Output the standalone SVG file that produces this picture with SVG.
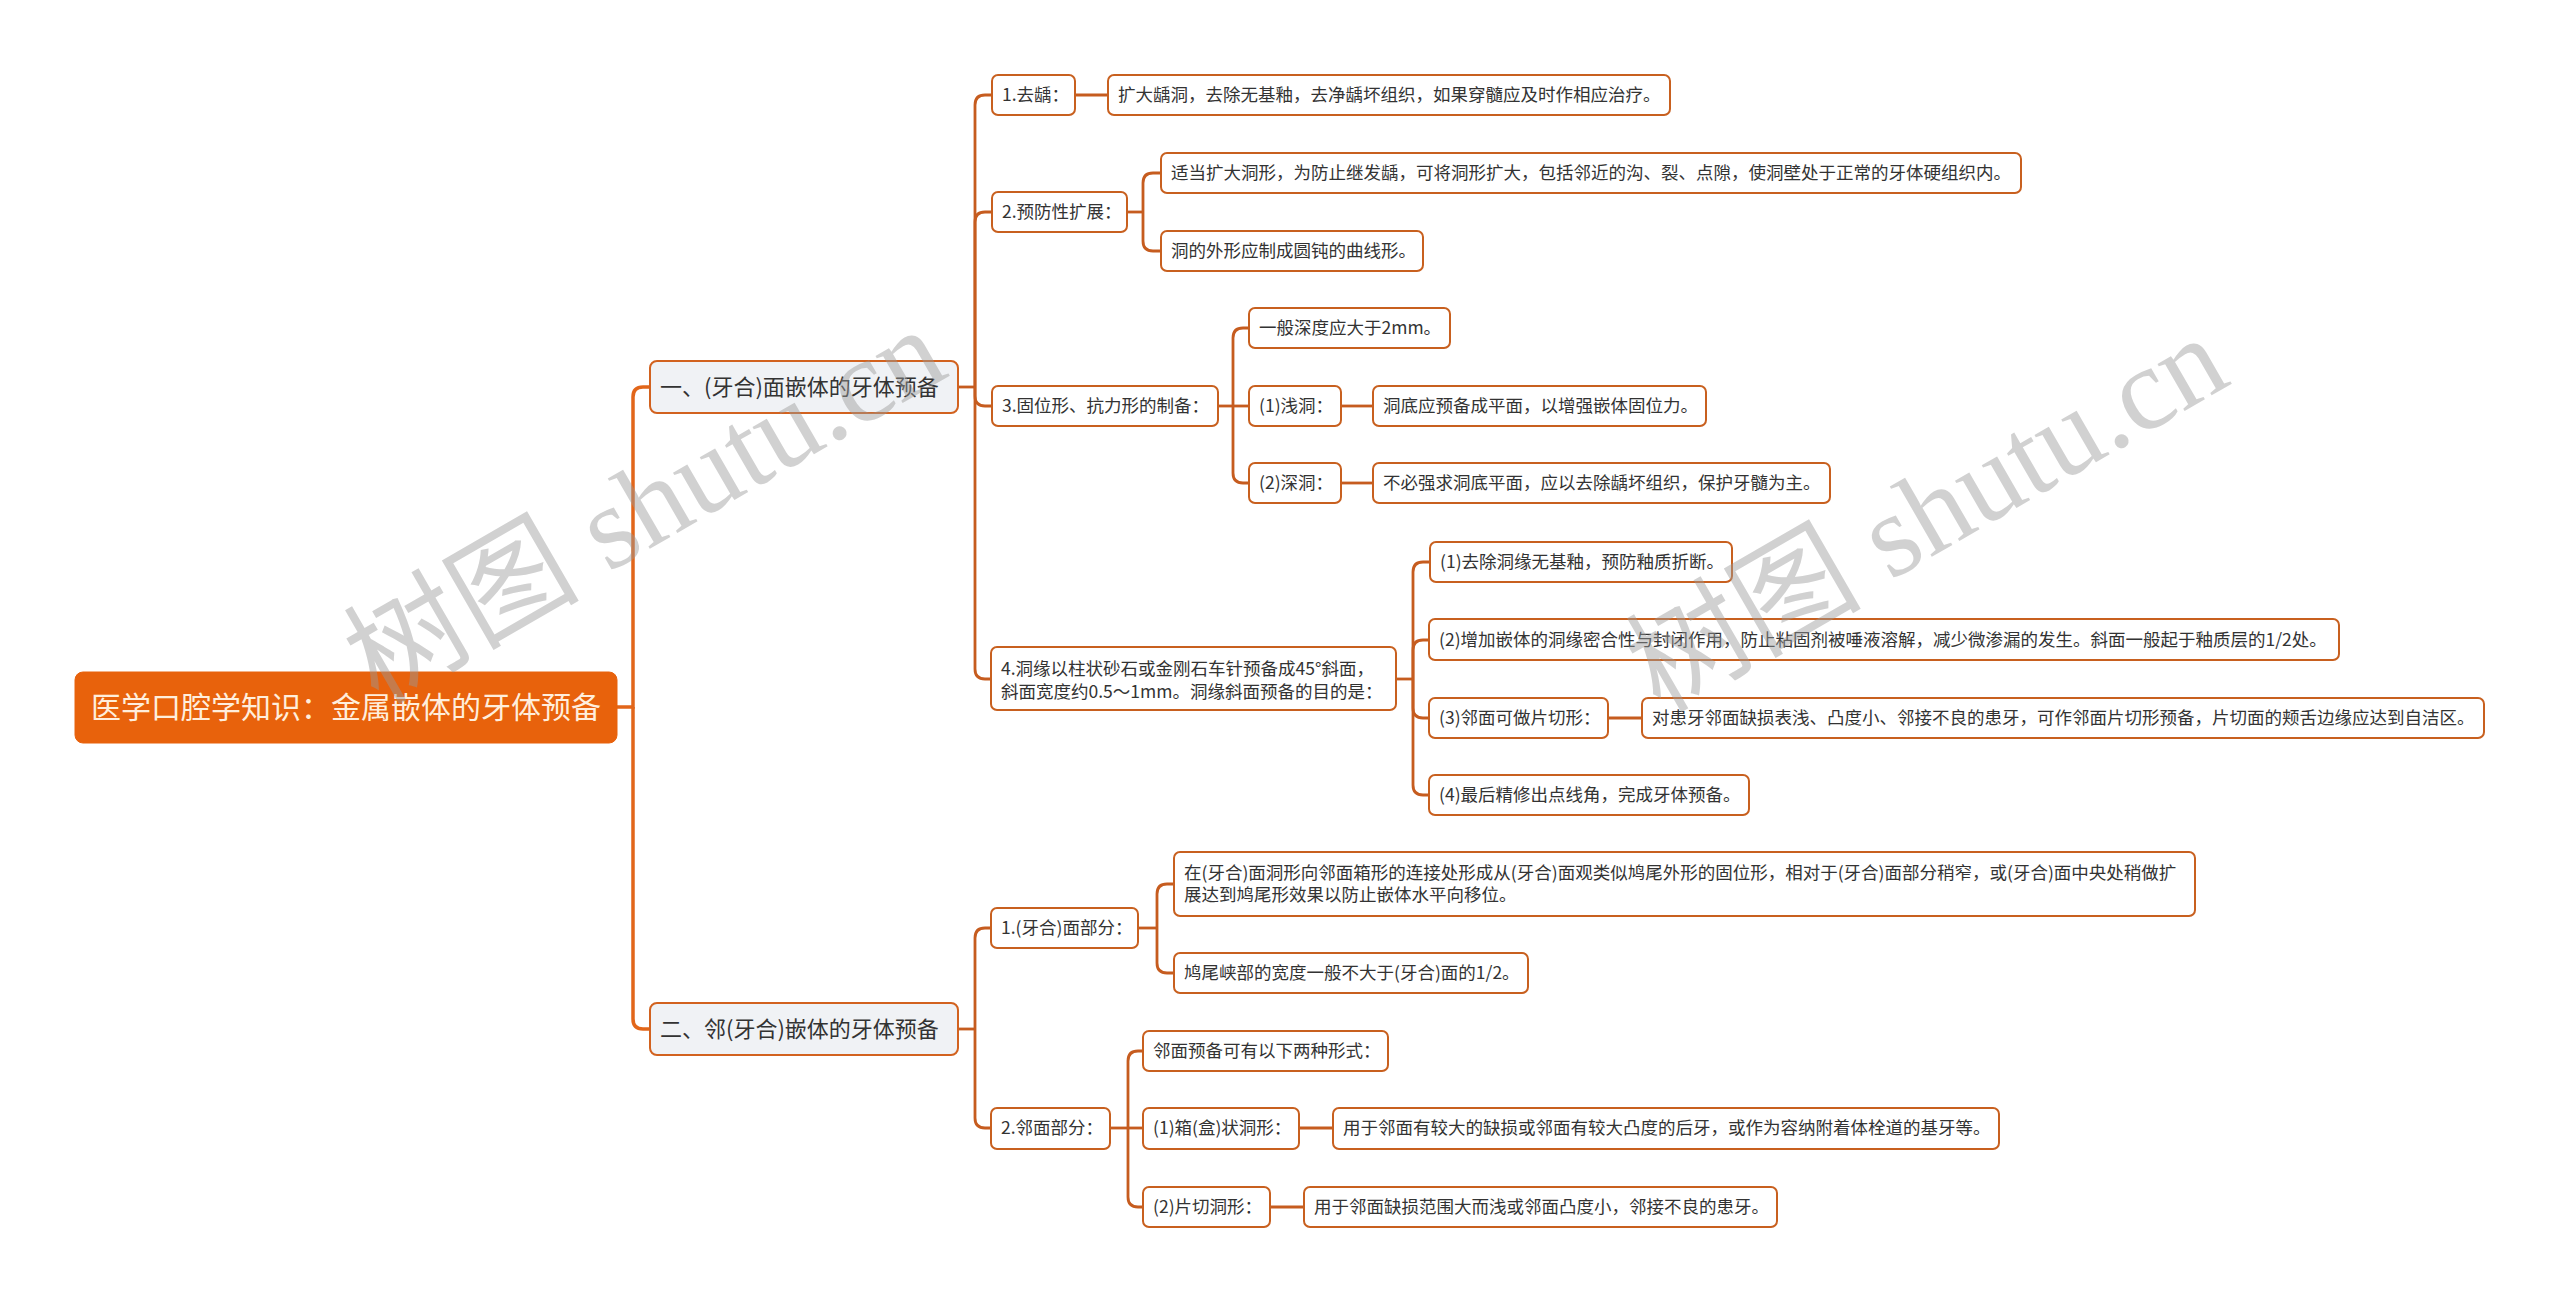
<svg xmlns="http://www.w3.org/2000/svg" width="2560" height="1302" viewBox="0 0 2560 1302">
<style>
.bg{fill:#ffffff}
.root rect{fill:#E8620C;stroke:#E8620C;stroke-width:1}
.root text{fill:#FFEEDC;font-size:30px}
.l1 rect{fill:#F0F2F5;stroke:#D2621F;stroke-width:2}
.l1 text{fill:#333333;font-size:22px}
.n rect{fill:#FFFFFF;stroke:#C8601F;stroke-width:2}
.n text{fill:#333333;font-size:17.5px}
text{font-family:"Noto Sans CJK SC","Noto Sans",sans-serif}
.c1 path{fill:none;stroke:#E2661A;stroke-width:3.5}
.c2 path{fill:none;stroke:#C65C1F;stroke-width:2.8}
.wm{fill:#9A9A9A;opacity:0.45;font-size:118px;font-family:"Liberation Serif","Noto Sans CJK SC",serif}
</style>
<rect class="bg" x="0" y="0" width="2560" height="1302"/>

<g id="connectors">
<g class="c1">
<path d="M617,707 H633 V397 Q633,387 643,387 H650"/>
<path d="M633,707 V1019 Q633,1029 643,1029 H650"/>
</g>
<g class="c2">
<path d="M958,387 H975"/>
<path d="M975,387 V105 Q975,95 985,95 H992"/>
<path d="M975,387 V222 Q975,212 985,212 H992"/>
<path d="M975,387 V396 Q975,406 985,406 H992"/>
<path d="M975,387 V669 Q975,679 985,679 H991"/>
<path d="M1075,95 H1108"/>
<path d="M1127,212 H1143"/>
<path d="M1143,212 V183 Q1143,173 1153,173 H1161"/>
<path d="M1143,212 V241 Q1143,251 1153,251 H1161"/>
<path d="M1218,406 H1249"/>
<path d="M1233,406 V338 Q1233,328 1243,328 H1249"/>
<path d="M1233,406 V473 Q1233,483 1243,483 H1249"/>
<path d="M1341,406 H1373"/>
<path d="M1341,483 H1373"/>
<path d="M1396,679 H1413"/>
<path d="M1413,679 V572 Q1413,562 1423,562 H1430"/>
<path d="M1413,679 V650 Q1413,640 1423,640 H1429"/>
<path d="M1413,679 V708 Q1413,718 1423,718 H1429"/>
<path d="M1413,679 V785 Q1413,795 1423,795 H1429"/>
<path d="M1608,718 H1642"/>
<path d="M958,1029 H975"/>
<path d="M975,1029 V938 Q975,928 985,928 H991"/>
<path d="M975,1029 V1118 Q975,1128 985,1128 H991"/>
<path d="M1138,928 H1157"/>
<path d="M1157,928 V894 Q1157,884 1167,884 H1174"/>
<path d="M1157,928 V963 Q1157,973 1167,973 H1174"/>
<path d="M1110,1128 H1128"/>
<path d="M1128,1128 V1061 Q1128,1051 1138,1051 H1143"/>
<path d="M1128,1128 H1143"/>
<path d="M1128,1128 V1197 Q1128,1207 1138,1207 H1143"/>
<path d="M1299,1128 H1333"/>
<path d="M1270,1207 H1304"/>
</g>
</g>

<g id="root" class="root"><rect x="75" y="672" width="542" height="71" rx="8"/><text x="91" y="718">医学口腔学知识：金属嵌体的牙体预备</text></g>

<g id="nA" class="l1"><rect x="650" y="361" width="308" height="52" rx="7"/><text x="660" y="395">一、(牙合)面嵌体的牙体预备</text></g>
<g id="nB" class="l1"><rect x="650" y="1003" width="308" height="52" rx="7"/><text x="660" y="1037">二、邻(牙合)嵌体的牙体预备</text></g>

<g id="nA1" class="n"><rect x="992" y="75" width="83" height="40" rx="6"/><text x="1002" y="101">1.去龋：</text></g>
<g id="nA1c" class="n"><rect x="1108" y="75" width="562" height="40" rx="6"/><text x="1118" y="101">扩大龋洞，去除无基釉，去净龋坏组织，如果穿髓应及时作相应治疗。</text></g>
<g id="nA2" class="n"><rect x="992" y="192" width="135" height="40" rx="6"/><text x="1002" y="218">2.预防性扩展：</text></g>
<g id="nA2a" class="n"><rect x="1161" y="153" width="860" height="40" rx="6"/><text x="1171" y="179">适当扩大洞形，为防止继发龋，可将洞形扩大，包括邻近的沟、裂、点隙，使洞壁处于正常的牙体硬组织内。</text></g>
<g id="nA2b" class="n"><rect x="1161" y="231" width="262" height="40" rx="6"/><text x="1171" y="257">洞的外形应制成圆钝的曲线形。</text></g>
<g id="nA3" class="n"><rect x="992" y="386" width="226" height="40" rx="6"/><text x="1002" y="412">3.固位形、抗力形的制备：</text></g>
<g id="nA3a" class="n"><rect x="1249" y="308" width="201" height="40" rx="6"/><text x="1259" y="334">一般深度应大于2mm。</text></g>
<g id="nA3b" class="n"><rect x="1249" y="386" width="92" height="40" rx="6"/><text x="1259" y="412">(1)浅洞：</text></g>
<g id="nA3bc" class="n"><rect x="1373" y="386" width="333" height="40" rx="6"/><text x="1383" y="412">洞底应预备成平面，以增强嵌体固位力。</text></g>
<g id="nA3c" class="n"><rect x="1249" y="463" width="92" height="40" rx="6"/><text x="1259" y="489">(2)深洞：</text></g>
<g id="nA3cc" class="n"><rect x="1373" y="463" width="457" height="40" rx="6"/><text x="1383" y="489">不必强求洞底平面，应以去除龋坏组织，保护牙髓为主。</text></g>
<g id="nA4" class="n"><rect x="991" y="647" width="405" height="63" rx="6"/><text x="1001" y="675">4.洞缘以柱状砂石或金刚石车针预备成45°斜面，</text><text x="1001" y="698">斜面宽度约0.5～1mm。洞缘斜面预备的目的是：</text></g>
<g id="nA4a" class="n"><rect x="1430" y="542" width="302" height="40" rx="6"/><text x="1440" y="568">(1)去除洞缘无基釉，预防釉质折断。</text></g>
<g id="nA4b" class="n"><rect x="1429" y="619" width="910" height="41" rx="6"/><text x="1439" y="646">(2)增加嵌体的洞缘密合性与封闭作用，防止粘固剂被唾液溶解，减少微渗漏的发生。斜面一般起于釉质层的1/2处。</text></g>
<g id="nA4c" class="n"><rect x="1429" y="698" width="179" height="40" rx="6"/><text x="1439" y="724">(3)邻面可做片切形：</text></g>
<g id="nA4cc" class="n"><rect x="1642" y="698" width="842" height="40" rx="6"/><text x="1652" y="724">对患牙邻面缺损表浅、凸度小、邻接不良的患牙，可作邻面片切形预备，片切面的颊舌边缘应达到自洁区。</text></g>
<g id="nA4d" class="n"><rect x="1429" y="775" width="320" height="40" rx="6"/><text x="1439" y="801">(4)最后精修出点线角，完成牙体预备。</text></g>

<g id="nB1" class="n"><rect x="991" y="908" width="147" height="40" rx="6"/><text x="1001" y="934">1.(牙合)面部分：</text></g>
<g id="nB1a" class="n"><rect x="1174" y="852" width="1021" height="64" rx="6"/><text x="1184" y="879">在(牙合)面洞形向邻面箱形的连接处形成从(牙合)面观类似鸠尾外形的固位形，相对于(牙合)面部分稍窄，或(牙合)面中央处稍做扩</text><text x="1184" y="901">展达到鸠尾形效果以防止嵌体水平向移位。</text></g>
<g id="nB1b" class="n"><rect x="1174" y="953" width="354" height="40" rx="6"/><text x="1184" y="979">鸠尾峡部的宽度一般不大于(牙合)面的1/2。</text></g>
<g id="nB2" class="n"><rect x="991" y="1108" width="119" height="41" rx="6"/><text x="1001" y="1134">2.邻面部分：</text></g>
<g id="nB2a" class="n"><rect x="1143" y="1031" width="245" height="40" rx="6"/><text x="1153" y="1057">邻面预备可有以下两种形式：</text></g>
<g id="nB2b" class="n"><rect x="1143" y="1108" width="156" height="41" rx="6"/><text x="1153" y="1134">(1)箱(盒)状洞形：</text></g>
<g id="nB2bc" class="n"><rect x="1333" y="1108" width="666" height="41" rx="6"/><text x="1343" y="1134">用于邻面有较大的缺损或邻面有较大凸度的后牙，或作为容纳附着体栓道的基牙等。</text></g>
<g id="nB2c" class="n"><rect x="1143" y="1187" width="127" height="40" rx="6"/><text x="1153" y="1213">(2)片切洞形：</text></g>
<g id="nB2cc" class="n"><rect x="1304" y="1187" width="473" height="40" rx="6"/><text x="1314" y="1213">用于邻面缺损范围大而浅或邻面凸度小，邻接不良的患牙。</text></g>

<g id="watermark">
<text class="wm" x="645" y="506" text-anchor="middle" dominant-baseline="central" transform="rotate(-30 645 506)">树图 shutu.cn</text>
<text class="wm" x="1927" y="514" text-anchor="middle" dominant-baseline="central" transform="rotate(-30 1927 514)">树图 shutu.cn</text>
</g>
</svg>
